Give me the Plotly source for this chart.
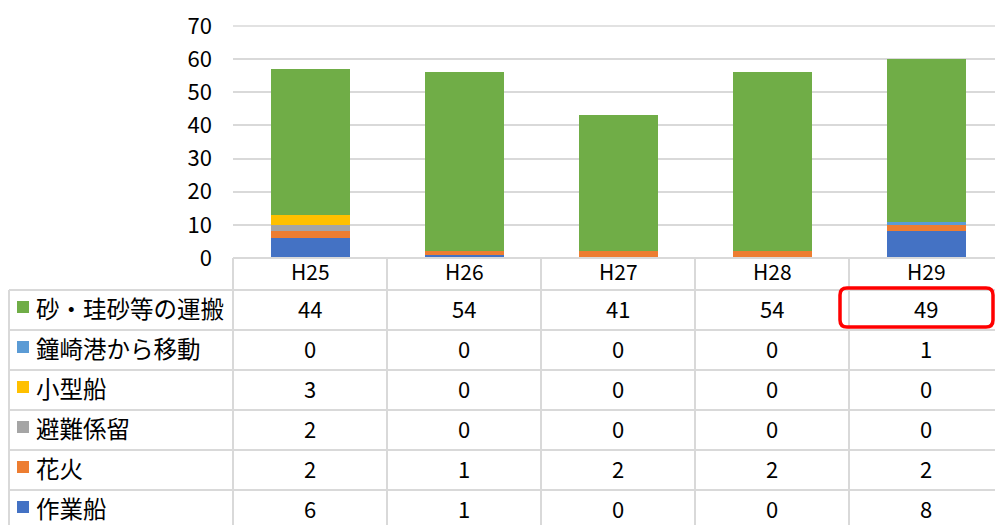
import plotly.graph_objects as go

# ---- data ----
years = ["H25", "H26", "H27", "H28", "H29"]
sand = [44, 54, 41, 54, 49]          # 砂・珪砂等の運搬
kanezaki = [0, 0, 0, 0, 1]           # 鐘崎港から移動
small_ship = [3, 0, 0, 0, 0]         # 小型船
refuge = [2, 0, 0, 0, 0]             # 避難係留
fireworks = [2, 1, 2, 2, 2]          # 花火
work_ship = [6, 1, 0, 0, 8]          # 作業船

series_names = ["砂・珪砂等の運搬", "鐘崎港から移動", "小型船", "避難係留", "花火", "作業船"]
series_values = [sand, kanezaki, small_ship, refuge, fireworks, work_ship]
series_colors = ["#70AD47", "#5B9BD5", "#FFC000", "#A5A5A5", "#ED7D31", "#4472C4"]
y_ticks = [0, 10, 20, 30, 40, 50, 60, 70]

# ---- geometry (page pixels; the page body has an 8px margin) ----
OFF = 8
W, H = 1003 - OFF, 525 - OFF
PL, PR = 233, 1003
Y0, Y70 = 258, 26
HDR_B = 290
ROW_H = 40
TBL_L = 8
COL_W = (PR - PL) / len(years)
FONT = "Noto Sans CJK JP"
GRID = "#D9D9D9"


def px(x):
    return (x - OFF) / W


def py(y):
    return 1 - (y - OFF) / H


fig = go.Figure()
for name, vals, col in reversed(list(zip(series_names, series_values, series_colors))):
    fig.add_trace(go.Bar(x=years, y=vals, name=name, marker=dict(color=col, line=dict(width=0)),
                         showlegend=False))

shapes = []
annotations = []

# top gridline (end of the y range), drawn below the bars
shapes.append(dict(type="line", xref="paper", yref="paper", x0=px(PL), x1=1, y0=py(Y70), y1=py(Y70),
                   layer="below", line=dict(color=GRID, width=1.5)))

# table horizontal lines
shapes.append(dict(type="line", xref="paper", yref="paper", x0=px(PL), x1=1, y0=py(Y0), y1=py(Y0),
                   line=dict(color=GRID, width=2)))
for i in range(len(series_names) + 1):
    yy = HDR_B + ROW_H * i
    shapes.append(dict(type="line", xref="paper", yref="paper", x0=px(TBL_L + 1), x1=1, y0=py(yy), y1=py(yy),
                       line=dict(color=GRID, width=2)))
# table vertical lines
shapes.append(dict(type="line", xref="paper", yref="paper", x0=px(TBL_L + 1), x1=px(TBL_L + 1),
                   y0=py(HDR_B), y1=py(540), line=dict(color=GRID, width=2)))
for k in range(len(years)):
    xx = PL + COL_W * k
    shapes.append(dict(type="line", xref="paper", yref="paper", x0=px(xx), x1=px(xx), y0=py(Y0), y1=py(540),
                       line=dict(color=GRID, width=2)))

# header
for k, yr in enumerate(years):
    annotations.append(dict(xref="paper", yref="paper", x=px(PL + COL_W * (k + 0.5)), y=py(271), text=yr,
                            showarrow=False, xanchor="center", yanchor="middle",
                            font=dict(family=FONT, size=21, color="#000000")))

# rows
for i, (name, vals, col) in enumerate(zip(series_names, series_values, series_colors)):
    cy = HDR_B + ROW_H * i + 20
    ty = cy - 2
    shapes.append(dict(type="rect", xref="paper", yref="paper", x0=px(17), x1=px(29), y0=py(cy - 3 - 6),
                       y1=py(cy - 3 + 6), fillcolor=col, line=dict(width=0)))
    annotations.append(dict(xref="paper", yref="paper", x=px(34), y=py(ty), text=name, showarrow=False,
                            xanchor="left", yanchor="middle",
                            font=dict(family=FONT, size=23.5, color="#000000")))
    for k, v in enumerate(vals):
        annotations.append(dict(xref="paper", yref="paper", x=px(PL + COL_W * (k + 0.5)), y=py(ty),
                                text=str(v), showarrow=False, xanchor="center", yanchor="middle",
                                font=dict(family=FONT, size=22, color="#000000")))

# red rounded highlight box
bx0, bx1, by0, by1, r = 840, 993, 288, 327, 7
path = (f"M {px(bx0 + r)} {py(by0)} L {px(bx1 - r)} {py(by0)} "
        f"Q {px(bx1)} {py(by0)} {px(bx1)} {py(by0 + r)} L {px(bx1)} {py(by1 - r)} "
        f"Q {px(bx1)} {py(by1)} {px(bx1 - r)} {py(by1)} L {px(bx0 + r)} {py(by1)} "
        f"Q {px(bx0)} {py(by1)} {px(bx0)} {py(by1 - r)} L {px(bx0)} {py(by0 + r)} "
        f"Q {px(bx0)} {py(by0)} {px(bx0 + r)} {py(by0)} Z")
shapes.append(dict(type="path", xref="paper", yref="paper", path=path, line=dict(color="#FF0000", width=3.5)))

fig.update_layout(
    width=W, height=H, margin=dict(l=0, r=0, t=0, b=0, autoexpand=False),
    paper_bgcolor="white", plot_bgcolor="white",
    barmode="stack", bargap=0.487,
    xaxis=dict(domain=[px(PL), 1], showticklabels=False, showgrid=False, zeroline=False,
               showline=False, ticks="", automargin=False),
    yaxis=dict(domain=[py(Y0), py(Y70)], range=[0, 70], tickvals=y_ticks, showgrid=True,
               gridcolor=GRID, gridwidth=1.5, zeroline=False, showline=False, ticks="",
               ticklabelstandoff=20, automargin=False, ticklabeloverflow="allow",
               tickfont=dict(family=FONT, size=22, color="#000000")),
    shapes=shapes, annotations=annotations,
)

fig.write_html("out.html")
